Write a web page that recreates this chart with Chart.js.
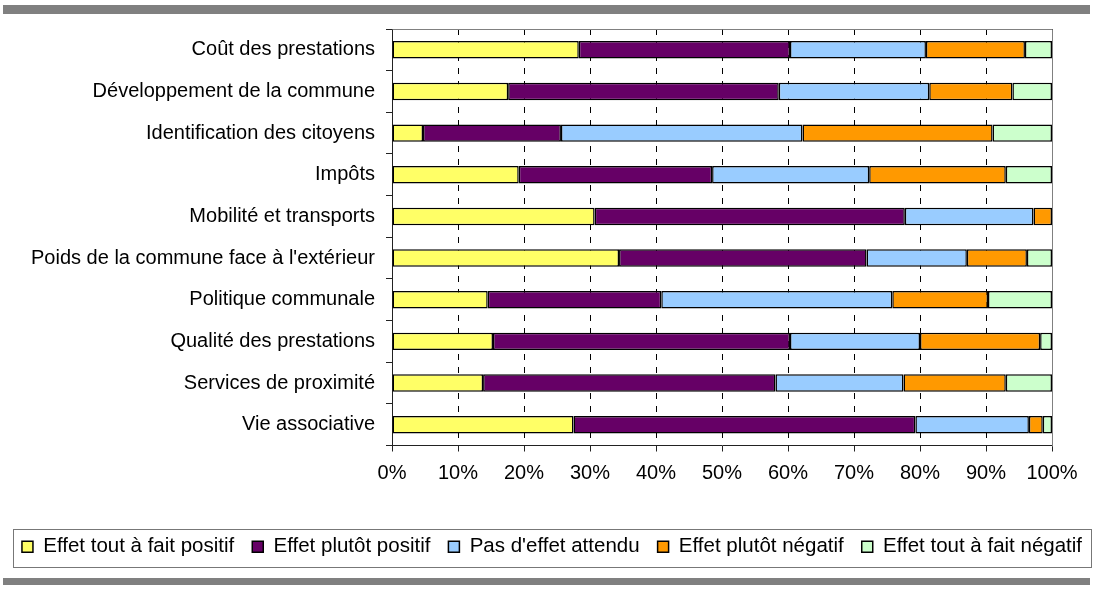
<!DOCTYPE html>
<html>
<head>
<meta charset="utf-8">
<script src="https://cdn.jsdelivr.net/npm/chart.js@4.4.1/dist/chart.umd.min.js"></script>
<style>
    html, body { margin: 0; padding: 0; background: #fff; }
    #wrap { position: relative; width: 1094px; height: 589px; overflow: hidden; }
    .rule { position: absolute; left: 3px; width: 1087px; background: #808080; }
    #legendBox { position: absolute; left: 13px; top: 529px; width: 1077px; height: 37px; border: 1px solid #777; pointer-events: none; }
</style>
</head>
<body>
<div id="wrap">
    <div class="rule" style="top:5px;height:9px"></div>
    <canvas id="myChart" width="1094" height="589"></canvas>
    <div id="legendBox"></div>
    <div class="rule" style="top:578px;height:7px"></div>
</div>
<script>
const categories = [
    'Coût des prestations',
    'Développement de la commune',
    'Identification des citoyens',
    'Impôts',
    'Mobilité et transports',
    "Poids de la commune face à l'extérieur",
    'Politique communale',
    'Qualité des prestations',
    'Services de proximité',
    'Vie associative'
];
const xTicks = [0, 10, 20, 30, 40, 50, 60, 70, 80, 90, 100];

// parts en %
const toutPositif   = [28.3, 17.6,  4.7, 19.2, 30.7, 34.4, 14.5, 15.3, 13.8, 27.5];
const plutotPositif = [32.0, 41.0, 20.9, 29.3, 47.0, 37.5, 26.3, 45.0, 44.3, 51.8];
const pasEffet      = [20.6, 22.8, 36.6, 23.8, 19.5, 15.2, 35.0, 19.7, 19.4, 17.2];
const plutotNegatif = [15.0, 12.6, 28.8, 20.7,  2.8,  9.1, 14.5, 18.2, 15.5,  2.1];
const toutNegatif   = [ 4.1,  6.0,  9.0,  7.0,  0.0,  3.8,  9.7,  1.8,  7.0,  1.4];

const seriesNames = ['Effet tout à fait positif', 'Effet plutôt positif', "Pas d'effet attendu", 'Effet plutôt négatif', 'Effet tout à fait négatif'];
const seriesData = [toutPositif, plutotPositif, pasEffet, plutotNegatif, toutNegatif];
const seriesColors = ['#FFFF66', '#660066', '#99CCFF', '#FF9900', '#CCFFCC'];

Chart.defaults.font.family = "'Liberation Sans', Arial, sans-serif";
Chart.defaults.font.size = 20;
Chart.defaults.color = '#000';

// cadre gris (haut et droite) de la zone de tracé
const plotFrame = {
    id: 'plotFrame',
    beforeDatasetsDraw(chart) {
        const a = chart.chartArea;
        const ctx = chart.ctx;
        ctx.save();
        ctx.strokeStyle = '#808080';
        ctx.lineWidth = 1;
        ctx.beginPath();
        ctx.moveTo(Math.round(a.left) + 0.5, Math.round(a.top) + 0.5);
        ctx.lineTo(Math.round(a.right) + 0.5, Math.round(a.top) + 0.5);
        ctx.lineTo(Math.round(a.right) + 0.5, Math.round(a.bottom) + 0.5);
        ctx.stroke();
        ctx.restore();
    }
};

const ctx = document.getElementById('myChart').getContext('2d');
new Chart(ctx, {
    type: 'bar',
    data: {
        labels: categories,
        datasets: seriesNames.map((name, i) => ({
            label: name,
            data: seriesData[i],
            backgroundColor: seriesColors[i],
            borderColor: '#000',
            borderWidth: 1.5,
            borderSkipped: false,
            barPercentage: 0.42,
            categoryPercentage: 1
        }))
    },
    options: {
        indexAxis: 'y',
        responsive: false,
        animation: false,
        devicePixelRatio: 1,
        layout: {
            padding: { top: 29, right: -10, bottom: 22, left: 0 }
        },
        scales: {
            x: {
                stacked: true,
                min: 0,
                max: 100,
                afterBuildTicks: scale => {
                    scale.ticks = xTicks.map(v => ({ value: v }));
                },
                afterFit: scale => {
                    scale.height = 73;
                    scale.paddingRight = 42;
                },
                ticks: {
                    padding: 10,
                    maxRotation: 0,
                    callback: v => v + '%'
                },
                grid: {
                    color: '#000',
                    lineWidth: 1,
                    drawTicks: true,
                    tickLength: 6,
                    tickColor: '#222',
                    tickBorderDash: []
                },
                border: {
                    display: true,
                    color: '#222',
                    width: 1,
                    dash: [6, 7]
                }
            },
            y: {
                stacked: true,
                afterFit: scale => {
                    scale.width = 392;
                },
                ticks: {
                    padding: 11
                },
                grid: {
                    drawOnChartArea: false,
                    drawTicks: true,
                    tickLength: 6,
                    tickColor: '#222',
                    offset: true
                },
                border: {
                    display: true,
                    color: '#222',
                    width: 1
                }
            }
        },
        plugins: {
            legend: {
                position: 'bottom',
                labels: {
                    boxWidth: 11,
                    boxHeight: 11,
                    padding: 18,
                    color: '#000',
                    font: { size: 20.5 }
                }
            },
            tooltip: { enabled: false }
        }
    },
    plugins: [plotFrame]
});
</script>
</body>
</html>
